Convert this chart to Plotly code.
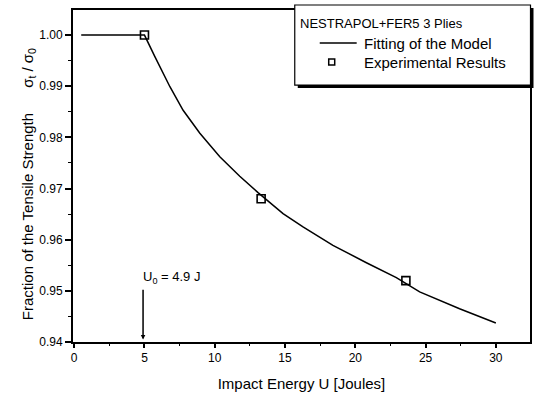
import plotly.graph_objects as go

# Fitted model curve
fit_u = [0.5, 5.0, 5.74, 6.81, 7.75, 8.94, 10.36, 11.78, 13.08, 14.86, 16.28, 18.41, 20.79, 22.92, 24.58, 27.42, 30.0]
fit_s = [1.0, 1.0, 0.9958, 0.9899, 0.9853, 0.9808, 0.9762, 0.9724, 0.9692, 0.9651, 0.9625, 0.9589, 0.9555, 0.9526, 0.9498, 0.9465, 0.9437]

# Experimental results
exp_u = [5.0, 13.3, 23.6]
exp_s = [1.0, 0.968, 0.952]

u0 = 4.9
u0_label = "U<sub>0</sub> = 4.9 J"

x_ticks = [0, 5, 10, 15, 20, 25, 30]
y_ticks = [0.94, 0.95, 0.96, 0.97, 0.98, 0.99, 1.00]

legend_title = "NESTRAPOL+FER5 3 Plies"
legend_fit = "Fitting of the Model"
legend_exp = "Experimental Results"
x_title = "Impact Energy U [Joules]"
y_title = "Fraction of the Tensile Strength      σ<sub>t</sub> / σ<sub>0</sub>"

FONT = "Liberation Sans, Arial, sans-serif"
NARROW = "Liberation Sans Narrow, Arial Narrow, Liberation Sans, Arial, sans-serif"

# plot area in pixels (for placing the hand-drawn legend box)
L, R, T, B = 73, 530.5, 10, 341.7
def px(x):
    return (x - L) / (R - L)
def py(y):
    return (B - y) / (B - T)

fig = go.Figure()
fig.add_trace(go.Scatter(x=fit_u, y=fit_s, mode="lines", name=legend_fit, showlegend=False,
                         line=dict(color="black", width=1.5, shape="linear")))
fig.add_trace(go.Scatter(x=exp_u, y=exp_s, mode="markers", name=legend_exp, showlegend=False,
                         marker=dict(symbol="square-open", size=8, color="black",
                                     line=dict(width=1.6, color="black"))))

# U0 marker line with arrow
fig.add_annotation(x=u0, y=0.9405, ax=u0, ay=0.9505, xref="x", yref="y", axref="x", ayref="y",
                   text="", showarrow=True, arrowhead=2, arrowsize=0.6, arrowwidth=1.5, arrowcolor="black")
fig.add_annotation(x=u0, y=0.9527, xref="x", yref="y", text=u0_label, showarrow=False,
                   xanchor="left", yanchor="middle", xshift=-2, font=dict(size=13, color="black", family=FONT))

# y-axis title
fig.add_annotation(x=px(28), y=py(184), xref="paper", yref="paper", text=y_title, showarrow=False,
                   textangle=-90, xanchor="center", yanchor="middle",
                   font=dict(size=15, color="black", family=FONT))

# legend box (shadow + frame)
fig.add_shape(type="rect", xref="paper", yref="paper", x0=px(298), x1=px(534), y0=py(88), y1=py(8),
              fillcolor="black", line=dict(width=0), layer="above")
fig.add_shape(type="rect", xref="paper", yref="paper", x0=px(295), x1=px(531), y0=py(85), y1=py(5),
              fillcolor="white", line=dict(width=1.2, color="black"), layer="above")
fig.add_shape(type="line", xref="paper", yref="paper", x0=px(320), x1=px(357), y0=py(43), y1=py(43),
              line=dict(width=1.5, color="black"), layer="above")
fig.add_shape(type="rect", xref="paper", yref="paper", x0=px(329), x1=px(335), y0=py(65), y1=py(59),
              line=dict(width=1.5, color="black"), fillcolor="white", layer="above")
fig.add_annotation(x=px(382), y=py(23), xref="paper", yref="paper", text=legend_title, showarrow=False,
                   xanchor="center", yanchor="middle", font=dict(size=13, color="black", family=NARROW))
fig.add_annotation(x=px(362), y=py(43), xref="paper", yref="paper", text=legend_fit, showarrow=False,
                   xanchor="left", yanchor="middle", font=dict(size=15, color="black", family=FONT))
fig.add_annotation(x=px(362), y=py(62), xref="paper", yref="paper", text=legend_exp, showarrow=False,
                   xanchor="left", yanchor="middle", font=dict(size=15, color="black", family=FONT))

axis_common = dict(showgrid=False, zeroline=False, showline=True, linecolor="black", linewidth=2,
                   mirror=True, ticks="outside", tickcolor="black", tickwidth=1.5, automargin=False,
                   tickfont=dict(size=12, color="black", family=FONT))

fig.update_xaxes(range=[-0.085, 32.43], tickvals=x_ticks, ticklen=4,
                 minor=dict(ticks="outside", dtick=2.5, tick0=0, ticklen=2, tickcolor="black", tickwidth=1),
                 title=dict(text=x_title, font=dict(size=15, color="black", family=FONT), standoff=14),
                 **axis_common)
fig.update_yaxes(range=[0.94, 1.0049], tickvals=y_ticks,
                 tickformat=".2f", ticklen=6,
                 minor=dict(ticks="outside", dtick=0.005, tick0=0.94, ticklen=3, tickcolor="black", tickwidth=1),
                 **axis_common)

fig.update_layout(
    width=536, height=397,
    margin=dict(l=L, r=536 - R, t=T, b=397 - B, autoexpand=False),
    plot_bgcolor="white", paper_bgcolor="white",
    font=dict(family=FONT, color="black"),
    showlegend=False,
)

fig.write_html("out.html", config={"displayModeBar": False},
               post_script="document.body.style.margin='0';document.body.style.overflow='hidden';")
